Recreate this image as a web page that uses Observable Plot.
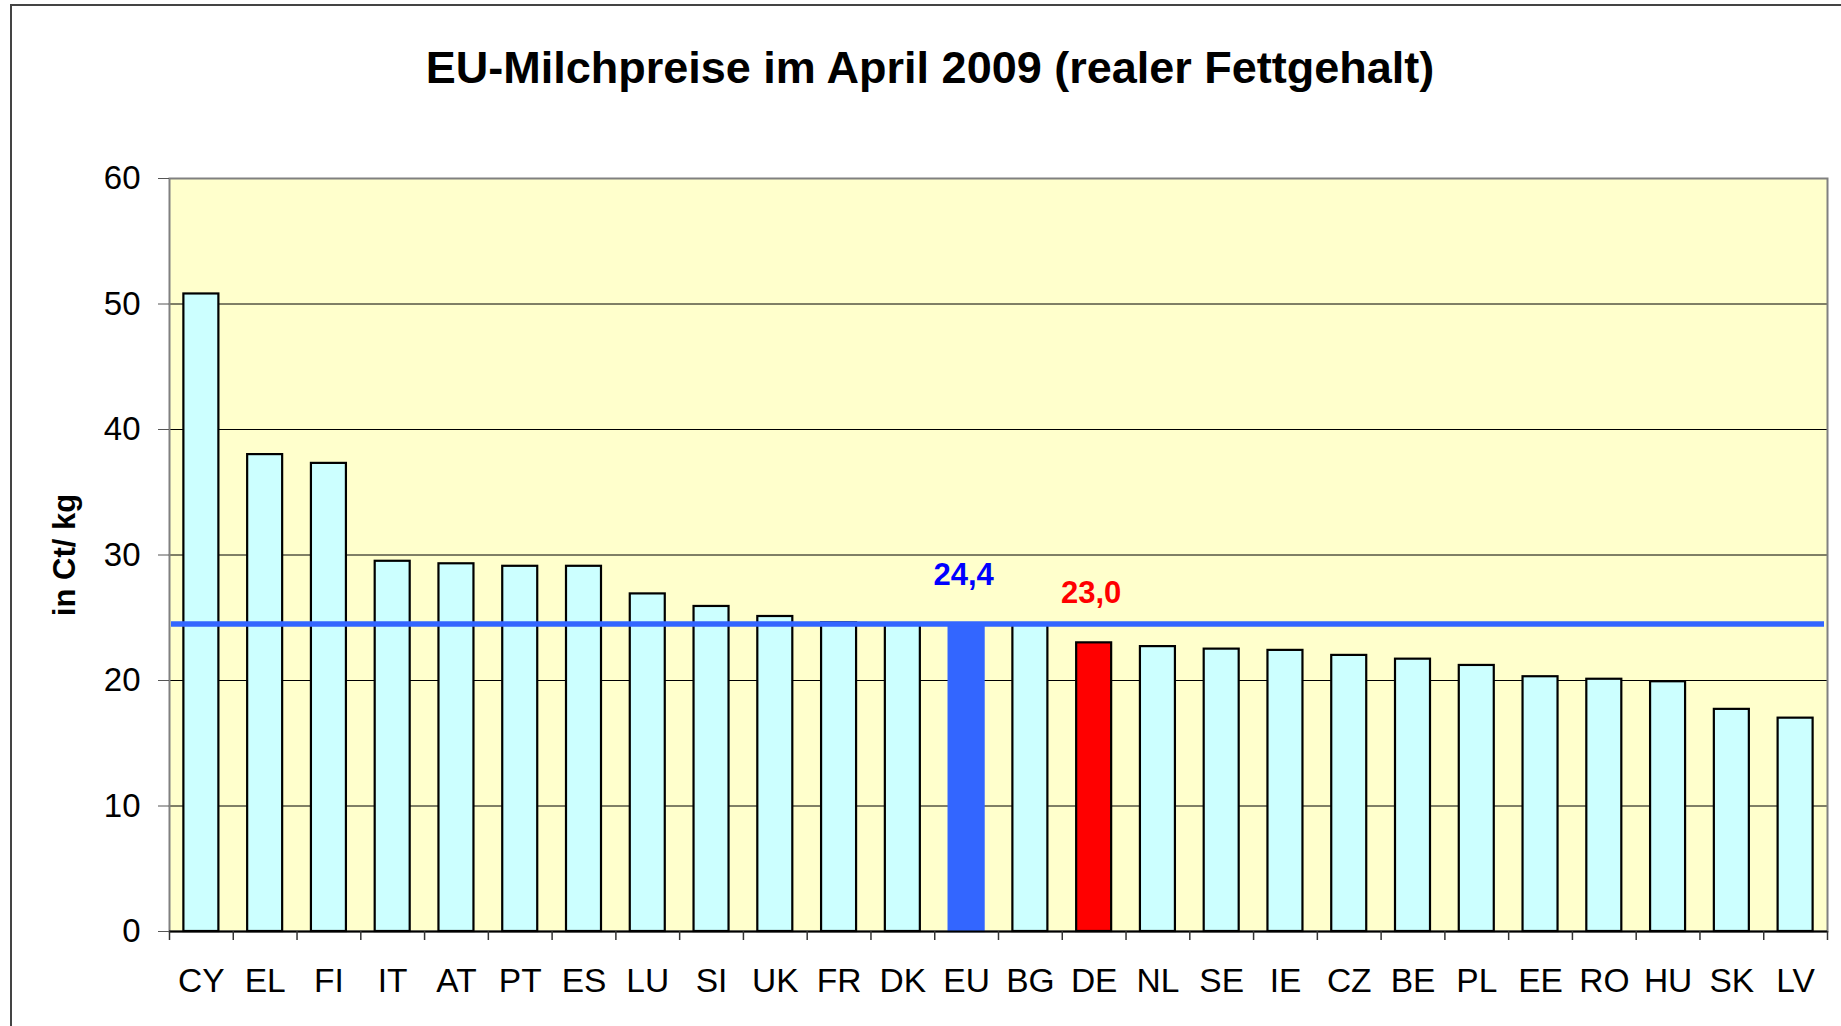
<!DOCTYPE html>
<html>
<head>
<meta charset="utf-8">
<script src="https://cdn.jsdelivr.net/npm/d3@7"></script>
<script src="https://cdn.jsdelivr.net/npm/@observablehq/plot@0.6"></script>
<style>
  html, body { margin: 0; padding: 0; background: #fff; }
  #wrap { position: relative; width: 1841px; height: 1026px; overflow: hidden; font-family: Arial, "Liberation Sans", sans-serif; }
  #border { position: absolute; left: 10px; top: 4px; width: 2000px; height: 1100px; border-left: 2px solid #444; border-top: 2px solid #444; }
  #title { position: absolute; top: 45px; left: 0; width: 1841px; padding-left: 19px; box-sizing: border-box; text-align: center; font-size: 45px; line-height: 45px; font-weight: bold; color: #000; }
  #chart { position: absolute; top: 130px; left: 0; }
</style>
</head>
<body>
<div id="wrap">
  <div id="border"></div>
  <div id="title">EU-Milchpreise im April 2009 (realer Fettgehalt)</div>
  <div id="chart"></div>
</div>
<script>
const categories = ["CY","EL","FI","IT","AT","PT","ES","LU","SI","UK","FR","DK","EU","BG","DE","NL","SE","IE","CZ","BE","PL","EE","RO","HU","SK","LV"];
const prices = [50.8,38.0,37.3,29.5,29.3,29.1,29.1,26.9,25.9,25.1,24.6,24.5,24.4,24.5,23.0,22.7,22.5,22.4,22.0,21.7,21.2,20.3,20.1,19.9,17.7,17.0];
const yTicks = [0,10,20,30,40,50,60];
const gridTicks = [10,20,30,40,50];
const euAverageLine = [24.5];
const highlightCats = ["EU","DE"];
const highlightLabels = ["24,4","23,0"];
const highlightColors = ["#0000FF","#FF0000"];
const yLabel = "in Ct/ kg";

const data = categories.map((c, i) => ({cat: c, value: prices[i]}));
const labels = highlightCats.map((c, i) => ({cat: c, value: prices[categories.indexOf(c)], text: highlightLabels[i], color: highlightColors[i]}));

const W = 1841, H = 896, mL = 169, mR = 14, mT = 48, mB = 95;
const bw = (W - mL - mR) / categories.length;
const plotH = H - mT - mB;
const barFill = d => d.cat === "EU" ? "#3366FF" : d.cat === "DE" ? "#FF0000" : "#CCFFFF";

const chart = Plot.plot({
  width: W, height: H,
  marginLeft: mL, marginRight: mR, marginTop: mT, marginBottom: mB,
  style: {fontFamily: 'Arial, "Liberation Sans", sans-serif', color: "#000", background: "transparent"},
  x: {domain: categories, padding: 0, round: false, label: null},
  y: {domain: [0, 60], label: null},
  color: {type: "identity"},
  marks: [
    Plot.frame({fill: "#FFFFCC", stroke: null}),
    Plot.ruleY(gridTicks, {stroke: "#000", strokeWidth: 1}),
    Plot.frame({stroke: "#808080", strokeWidth: 2}),
    Plot.barY(data, {x: "cat", y: "value", fill: barFill,
      stroke: d => d.cat === "EU" ? "#3366FF" : "#000", strokeWidth: 2.2,
      insetLeft: (bw - 35) / 2, insetRight: (bw - 35) / 2}),
    Plot.ruleY([0], {stroke: "#000", strokeWidth: 2}),
    Plot.ruleY(euAverageLine, {stroke: "#3366FF", strokeWidth: 5.5, insetLeft: 2, insetRight: 3}),
    Plot.ruleX(categories, {x: d => d, dx: -bw / 2, insetTop: plotH, insetBottom: -9, stroke: "#333", strokeWidth: 1.5}),
    Plot.ruleX([categories[categories.length - 1]], {x: d => d, dx: bw / 2, insetTop: plotH, insetBottom: -9, stroke: "#333", strokeWidth: 1.5}),
    Plot.text(labels, {x: "cat", y: "value", text: "text", fill: "color", dy: -50, dx: -3,
      fontSize: 31, fontWeight: "bold"}),
    Plot.axisY({ticks: yTicks, tickSize: 11, tickPadding: 18, fontSize: 33, stroke: "#555", tickFormat: d => String(d)}),
    Plot.axisX({tickSize: 0, tickPadding: 37, fontSize: 33.5}),
    Plot.text([yLabel], {frameAnchor: "left", textAnchor: "middle", rotate: -90, dx: -104, fontSize: 31, fontWeight: "bold", fill: "#000"})
  ]
});
document.getElementById("chart").appendChild(chart);
</script>
</body>
</html>
